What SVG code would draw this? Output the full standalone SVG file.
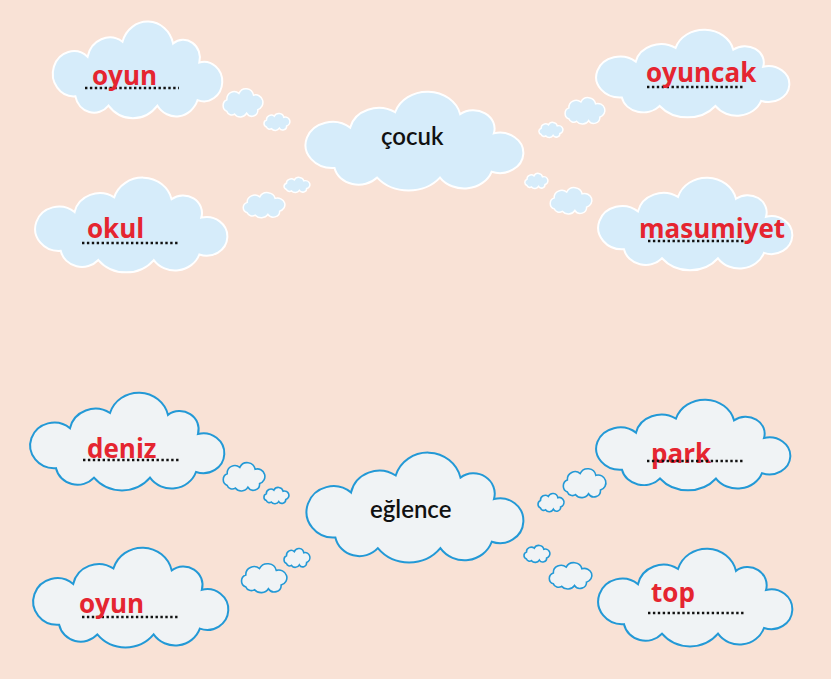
<svg xmlns="http://www.w3.org/2000/svg" width="831" height="679" viewBox="0 0 831 679">
<style>
.top{fill:#D6ECFA;stroke:#FFFFFF;stroke-width:2}
.bot{fill:#F0F3F5;stroke:#2399D6;stroke-width:2}
.tops{fill:#D6ECFA;stroke:#FFFFFF;stroke-width:1.5}
.bots{fill:#F0F3F5;stroke:#2399D6;stroke-width:1.6}
.ans{font-family:"Open Sans","Noto Sans",sans-serif;font-weight:700;font-size:26px;fill:#E52530}
.key{font-family:Lato,"Noto Sans",sans-serif;font-weight:600;font-size:24px;fill:#111111}
.dots{stroke:#111111;stroke-width:2.6;stroke-dasharray:2.4 2.5;fill:none}
</style>
<defs>
<path id="cloud" vector-effect="non-scaling-stroke" d="M28,78 A24,24 0 1 1 42,36 A26,26 0 0 1 82,20 A30,30 0 0 1 140,22 A19,19 0 0 1 170,42 A21,21 0 1 1 168,82 A26,26 0 0 1 122,88 A36,36 0 0 1 66,88 A22,22 0 0 1 28,78 Z"/>
<path id="puff" vector-effect="non-scaling-stroke" d="M16,52 A14,14 0 0 1 16,26 A17,17 0 0 1 44,12 A18,18 0 0 1 78,16 A15,15 0 0 1 88,48 A14,14 0 0 1 62,56 A17,17 0 0 1 34,58 A12,12 0 0 1 16,52 Z"/>
</defs>
<rect width="831" height="679" fill="#F9E2D6"/>

<g id="connectors">
<g class="tops">
<use href="#puff" transform="translate(220,88) scale(0.43,0.45)"/>
<use href="#puff" transform="translate(262,113) scale(0.28,0.27)"/>
<use href="#puff" transform="translate(240,192) scale(0.45,0.40)"/>
<use href="#puff" transform="translate(282,177) scale(0.28,0.24)"/>
<use href="#puff" transform="translate(562,97) scale(0.43,0.42)"/>
<use href="#puff" transform="translate(537,122) scale(0.26,0.24)"/>
<use href="#puff" transform="translate(523,173) scale(0.25,0.24)"/>
<use href="#puff" transform="translate(547,187) scale(0.45,0.42)"/>
</g>
<g class="bots">
<use href="#puff" transform="translate(220,462) scale(0.45,0.45)"/>
<use href="#puff" transform="translate(262,487) scale(0.27,0.26)"/>
<use href="#puff" transform="translate(560,468) scale(0.46,0.46)"/>
<use href="#puff" transform="translate(536,493) scale(0.28,0.29)"/>
<use href="#puff" transform="translate(522,545) scale(0.28,0.27)"/>
<use href="#puff" transform="translate(546,562) scale(0.46,0.42)"/>
<use href="#puff" transform="translate(282,548) scale(0.28,0.30)"/>
<use href="#puff" transform="translate(238,563) scale(0.49,0.46)"/>
</g>
</g>

<g id="cocuk"><use href="#cloud" class="top" transform="translate(303.1,93) scale(1.122,0.961)"/><text class="key" x="381" y="145">çocuk</text></g>
<g id="oyun1"><use href="#cloud" class="top" transform="translate(50.9,22.9) scale(0.873,0.941)"/><line class="dots" x1="85" y1="88" x2="179" y2="88"/><text class="ans" x="92" y="85">oyun</text></g>
<g id="okul"><use href="#cloud" class="top" transform="translate(33,178.9) scale(0.99,0.922)"/><line class="dots" x1="82" y1="243" x2="178" y2="243"/><text class="ans" x="87" y="238">okul</text></g>
<g id="oyuncak"><use href="#cloud" class="top" transform="translate(594,30.9) scale(0.995,0.853)"/><line class="dots" x1="647" y1="87" x2="743" y2="87"/><text class="ans" x="646" y="82">oyuncak</text></g>
<g id="masumiyet"><use href="#cloud" class="top" transform="translate(596,178.9) scale(1,0.902)"/><line class="dots" x1="648" y1="241" x2="744" y2="241"/><text class="ans" x="639" y="238">masumiyet</text></g>

<g id="eglence"><use href="#cloud" class="bot" transform="translate(304.1,454.1) scale(1.117,1.069)"/><text class="key" x="370" y="518">eğlence</text></g>
<g id="deniz"><use href="#cloud" class="bot" transform="translate(28,394) scale(1,0.951)"/><line class="dots" x1="83" y1="460" x2="179" y2="460"/><text class="ans" x="87" y="458">deniz</text></g>
<g id="oyun2"><use href="#cloud" class="bot" transform="translate(31,549) scale(1.005,0.971)"/><line class="dots" x1="82" y1="617" x2="178" y2="617"/><text class="ans" x="79" y="613">oyun</text></g>
<g id="park"><use href="#cloud" class="bot" transform="translate(594,400.9) scale(1,0.882)"/><text class="ans" x="651" y="463">park</text><line class="dots" x1="647" y1="461" x2="743" y2="461"/></g>
<g id="top"><use href="#cloud" class="bot" transform="translate(596,550) scale(1,0.951)"/><line class="dots" x1="648" y1="613" x2="744" y2="613"/><text class="ans" x="651" y="602">top</text></g>
</svg>
